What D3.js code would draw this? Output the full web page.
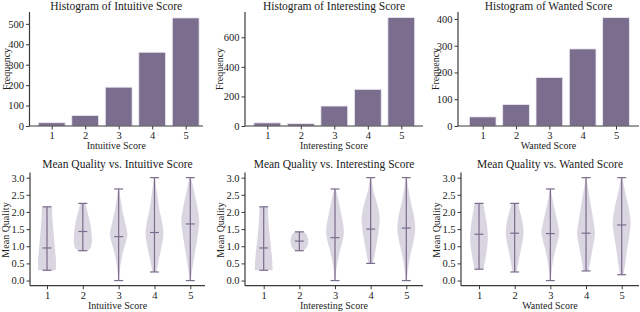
<html>
<head>
  <title>Score histograms and violins</title>
  <style>
    body { margin: 0; background: #fff; }
    text { font-family: 'Liberation Serif', serif; font-weight: 400; fill: #222; }
  </style>
</head>
<body>
  <script src="https://d3js.org/d3.v7.min.js"></script>
  <script>
    // ---- data ----
    var scores = [1, 2, 3, 4, 5];
    var scoreNames = ["Intuitive Score", "Interesting Score", "Wanted Score"];

    var intuitiveCounts = [16, 51, 190, 361, 529];
    var interestingCounts = [21, 16, 135, 248, 734];
    var wantedCounts = [34, 80, 181, 288, 405];

    var intuitiveTicks = [0, 100, 200, 300, 400, 500];
    var interestingTicks = [0, 200, 400, 600];
    var wantedTicks = [0, 100, 200, 300, 400];
    var qualityTicks = [0, 0.5, 1, 1.5, 2, 2.5, 3];

    // mean quality per score: min, max, mean and violin profile [value, relative width]
    var intuitiveMin = [0.3, 0.87, 0, 0.25, 0];
    var intuitiveMax = [2.15, 2.25, 2.67, 3, 3];
    var intuitiveMean = [0.95, 1.43, 1.28, 1.4, 1.65];
    var intuitiveShapes = [
      [[0.3, 0.98], [0.6, 1.0], [0.9, 0.9], [1.2, 0.8], [1.5, 0.7], [1.8, 0.62], [2.15, 0.56]],
      [[0.87, 0.55], [0.95, 0.85], [1.1, 1.0], [1.3, 1.0], [1.5, 0.92], [1.7, 0.8], [1.9, 0.62], [2.1, 0.42], [2.25, 0.28]],
      [[0, 0.04], [0.4, 0.18], [0.8, 0.46], [1.1, 0.78], [1.35, 0.98], [1.6, 0.8], [2.0, 0.46], [2.4, 0.2], [2.67, 0.06]],
      [[0.25, 0.22], [0.5, 0.4], [0.75, 0.6], [1.0, 0.8], [1.35, 1.0], [1.7, 0.85], [2.0, 0.6], [2.3, 0.42], [2.6, 0.26], [3.0, 0.06]],
      [[0, 0.05], [0.3, 0.2], [0.7, 0.45], [1.1, 0.7], [1.5, 0.92], [1.75, 1.0], [2.1, 0.82], [2.5, 0.5], [2.8, 0.25], [3.0, 0.08]]
    ];

    var interestingMin = [0.3, 0.87, 0, 0.5, 0];
    var interestingMax = [2.15, 1.42, 2.67, 3, 3];
    var interestingMean = [0.95, 1.15, 1.25, 1.5, 1.53];
    var interestingShapes = [
      [[0.3, 1.0], [0.6, 0.95], [0.9, 0.85], [1.2, 0.72], [1.5, 0.6], [1.8, 0.52], [2.15, 0.46]],
      [[0.87, 0.45], [0.95, 0.78], [1.05, 0.95], [1.15, 1.0], [1.25, 0.95], [1.35, 0.78], [1.42, 0.5]],
      [[0, 0.04], [0.4, 0.2], [0.8, 0.5], [1.1, 0.8], [1.4, 1.0], [1.7, 0.88], [2.0, 0.65], [2.3, 0.42], [2.67, 0.08]],
      [[0.5, 0.25], [0.75, 0.45], [1.0, 0.62], [1.3, 0.82], [1.6, 0.97], [1.85, 1.0], [2.1, 0.85], [2.35, 0.6], [2.6, 0.32], [2.8, 0.18], [3.0, 0.06]],
      [[0, 0.05], [0.3, 0.18], [0.7, 0.42], [1.1, 0.78], [1.5, 1.0], [1.9, 0.85], [2.3, 0.5], [2.7, 0.22], [3.0, 0.06]]
    ];

    var wantedMin = [0.33, 0.25, 0, 0.28, 0.17];
    var wantedMax = [2.25, 2.25, 2.67, 3, 3];
    var wantedMean = [1.35, 1.38, 1.37, 1.38, 1.62];
    var wantedShapes = [
      [[0.33, 0.5], [0.6, 0.7], [0.9, 0.88], [1.25, 1.0], [1.6, 0.9], [1.9, 0.72], [2.25, 0.48]],
      [[0.25, 0.22], [0.5, 0.4], [0.8, 0.62], [1.1, 0.85], [1.4, 1.0], [1.7, 0.88], [2.0, 0.6], [2.25, 0.35]],
      [[0, 0.04], [0.4, 0.2], [0.8, 0.48], [1.15, 0.82], [1.4, 1.0], [1.7, 0.8], [2.1, 0.45], [2.4, 0.22], [2.67, 0.06]],
      [[0.28, 0.3], [0.6, 0.5], [0.95, 0.75], [1.35, 1.0], [1.7, 0.85], [2.1, 0.6], [2.5, 0.35], [2.8, 0.15], [3.0, 0.05]],
      [[0.17, 0.2], [0.5, 0.4], [0.9, 0.6], [1.3, 0.85], [1.7, 1.0], [2.1, 0.8], [2.5, 0.45], [2.8, 0.22], [3.0, 0.08]]
    ];

    // ---- layout ----
    var barColor = "#7b6d8d";
    var violinFill = "#d8d4df";
    var violinLine = "#7b6b8c";
    var axisColor = "#3a3a3a";

    var svg = d3.select("body").append("svg")
      .attr("width", 640)
      .attr("height", 312);

    var topPanels = [
      { left: 29.5, right: 203, p1: 51.7, p5: 185.7, ymax: 558, labelX: 10, counts: intuitiveCounts, ticks: intuitiveTicks },
      { left: 245, right: 423, p1: 267.3, p5: 401.3, ymax: 771, labelX: 223, counts: interestingCounts, ticks: interestingTicks },
      { left: 458, right: 639, p1: 482.7, p5: 616, ymax: 426, labelX: 438.5, counts: wantedCounts, ticks: wantedTicks }
    ];
    var bottomPanels = [
      { left: 30, right: 205, p1: 47, p5: 190.3, labelX: 8.5, mins: intuitiveMin, maxs: intuitiveMax, means: intuitiveMean, shapes: intuitiveShapes },
      { left: 245, right: 423, p1: 263.7, p5: 406.3, labelX: 224, mins: interestingMin, maxs: interestingMax, means: interestingMean, shapes: interestingShapes },
      { left: 461, right: 639, p1: 479, p5: 621.7, labelX: 440, mins: wantedMin, maxs: wantedMax, means: wantedMean, shapes: wantedShapes }
    ];

    function styleAxis(g) {
      g.select(".domain").remove();
      g.selectAll(".tick line").attr("stroke", axisColor).attr("stroke-width", 1);
      g.selectAll(".tick text").style("font-size", "10.5px").attr("fill", "#222");
    }

    function spines(p, yTop, yBottom) {
      svg.append("line")
        .attr("x1", p.left).attr("x2", p.left)
        .attr("y1", yTop).attr("y2", yBottom)
        .attr("stroke", axisColor).attr("stroke-width", 1.2);
      svg.append("line")
        .attr("x1", p.left).attr("x2", p.right)
        .attr("y1", yBottom).attr("y2", yBottom)
        .attr("stroke", axisColor).attr("stroke-width", 1.2);
    }

    function labels(p, title, titleY, xlab, xlabY, ylab, ylabY) {
      var cx = (p.left + p.right) / 2;
      svg.append("text")
        .attr("x", cx).attr("y", titleY)
        .attr("text-anchor", "middle")
        .style("font-size", "11.5px")
        .text(title);
      svg.append("text")
        .attr("x", cx).attr("y", xlabY)
        .attr("text-anchor", "middle")
        .style("font-size", "10px")
        .text(xlab);
      svg.append("text")
        .attr("transform", "translate(" + p.labelX + "," + ylabY + ") rotate(-90)")
        .attr("text-anchor", "middle")
        .style("font-size", "10px")
        .text(ylab);
    }

    // histograms
    topPanels.forEach(function (p, i) {
      var x = d3.scaleLinear().domain([1, 5]).range([p.p1, p.p5]);
      var y = d3.scaleLinear().domain([0, p.ymax]).range([126, 12]);
      var step = x(2) - x(1);

      svg.selectAll(".bar" + i)
        .data(p.counts)
        .enter()
        .append("rect")
        .attr("class", "bar" + i)
        .attr("x", function (d, j) { return x(scores[j]) - 0.4 * step; })
        .attr("y", function (d) { return y(d); })
        .attr("width", 0.8 * step)
        .attr("height", function (d) { return y(0) - y(d); })
        .attr("fill", barColor)
        .attr("stroke", "#ece9f1")
        .attr("stroke-width", 0.8);

      svg.append("g")
        .attr("transform", "translate(0,126)")
        .call(d3.axisBottom(x).tickValues(scores).tickSize(3.5).tickPadding(2).tickFormat(d3.format("d")))
        .call(styleAxis);
      svg.append("g")
        .attr("transform", "translate(" + p.left + ",0)")
        .call(d3.axisLeft(y).tickValues(p.ticks).tickSize(3.5).tickPadding(2).tickFormat(d3.format("d")))
        .call(styleAxis);

      spines(p, 12, 126);
      labels(p, "Histogram of " + scoreNames[i], 9.5, scoreNames[i], 149, "Frequency", 69);
    });

    // violins
    bottomPanels.forEach(function (p, i) {
      var x = d3.scaleLinear().domain([1, 5]).range([p.p1, p.p5]);
      var y = d3.scaleLinear().domain([-0.15, 3.15]).range([285.7, 172.5]);
      var step = x(2) - x(1);
      var half = 0.25 * step;
      var cap = 0.125 * step;

      scores.forEach(function (s, j) {
        var cx = x(s);
        var area = d3.area()
          .curve(d3.curveCatmullRom.alpha(0.5))
          .y(function (d) { return y(d[0]); })
          .x0(function (d) { return cx - d[1] * half; })
          .x1(function (d) { return cx + d[1] * half; });
        svg.append("path")
          .datum(p.shapes[j])
          .attr("d", area)
          .attr("fill", violinFill)
          .attr("fill-opacity", 0.95);

        svg.append("line")
          .attr("x1", cx).attr("x2", cx)
          .attr("y1", y(p.mins[j])).attr("y2", y(p.maxs[j]))
          .attr("stroke", violinLine).attr("stroke-width", 1.2);
        [p.mins[j], p.maxs[j], p.means[j]].forEach(function (v) {
          svg.append("line")
            .attr("x1", cx - cap).attr("x2", cx + cap)
            .attr("y1", y(v)).attr("y2", y(v))
            .attr("stroke", violinLine).attr("stroke-width", 1.2);
        });
      });

      svg.append("g")
        .attr("transform", "translate(0,285.7)")
        .call(d3.axisBottom(x).tickValues(scores).tickSize(3.5).tickPadding(2).tickFormat(d3.format("d")))
        .call(styleAxis);
      svg.append("g")
        .attr("transform", "translate(" + p.left + ",0)")
        .call(d3.axisLeft(y).tickValues(qualityTicks).tickSize(3.5).tickPadding(2).tickFormat(d3.format(".1f")))
        .call(styleAxis);

      spines(p, 172.5, 285.7);
      labels(p, "Mean Quality vs. " + scoreNames[i], 168, scoreNames[i], 309, "Mean Quality", 230);
    });
  </script>
</body>
</html>
